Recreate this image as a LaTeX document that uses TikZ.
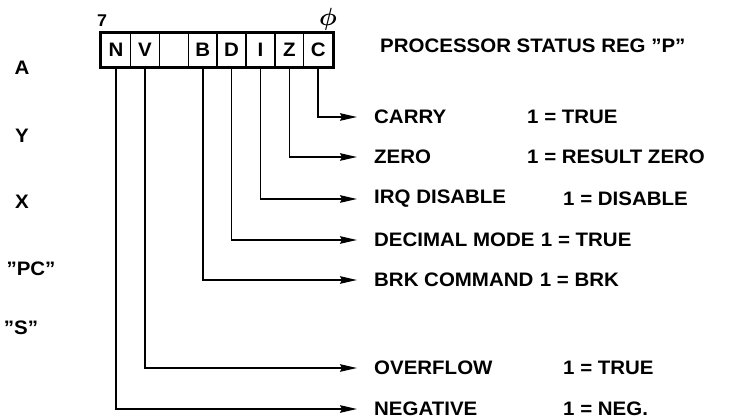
\documentclass[tikz,border=0pt]{standalone}
\usepackage{bm}
\usepackage{fontspec}
\setmainfont{Liberation Sans}[FakeStretch=1.05]
\usetikzlibrary{arrows.meta}

\begin{document}
\begin{tikzpicture}[
    x=1pt, y=-1pt,
    every node/.style={font=\fontsize{19.5}{22}\selectfont\bfseries},
    cell/.style={draw, line width=1.3pt, minimum width=28.9pt,
        minimum height=33pt, inner sep=0pt},
    flag/.style={line width=1.7pt,
        -{Stealth[length=17pt,width=7.5pt,inset=2pt]}, shorten >=17pt},
    lbl/.style={anchor=west, inner sep=0pt}]
    \useasboundingbox (0,0) rectangle (730,419);

    % Registros a la izquierda.
    \node (regA) at (22,68) {A};
    \node (regY) at (22,136) {Y};
    \node (regX) at (22,202) {X};
    \node (regPC) at (31,269) {''PC''};
    \node (regS) at (21,328) {''S''};

    % Registro de estado, bits 7 a 0.
    \node[cell] (bitN) at (115.95,50) {N};
    \node[cell] (bitV) at (144.85,50) {V};
    \node[cell] (bitU) at (173.75,50) {};
    \node[cell] (bitB) at (202.65,50) {B};
    \node[cell] (bitD) at (231.55,50) {D};
    \node[cell] (bitI) at (260.45,50) {I};
    \node[cell] (bitZ) at (289.35,50) {Z};
    \node[cell] (bitC) at (318.25,50) {C};
    \draw[line width=3.2pt] (bitN.north west) rectangle (bitC.south east);
    \node[font=\fontsize{17}{18}\selectfont\bfseries] (msb) at (102,21) {7};
    \node[font=\fontsize{24}{26}\selectfont] (lsb) at (328,19) {$\bm{\phi}$};
    \node[lbl] (title) at (380,46) {PROCESSOR STATUS REG ''P''};

    % Nombre de cada bandera y su valor.
    \node[lbl] (carry) at (374,117) {CARRY};
    \node[lbl] (carryv) at (527,117) {1 = TRUE};
    \node[lbl] (zero) at (374,157) {ZERO};
    \node[lbl] (zerov) at (527,157) {1 = RESULT ZERO};
    \node[lbl] (irq) at (374,199) {IRQ DISABLE};
    \node[lbl] (irqv) at (563,199) {1 = DISABLE};
    \node[lbl] (dec) at (374,240) {DECIMAL MODE};
    \node[lbl] (decv) at ([xshift=6pt]dec.east) {1 = TRUE};
    \node[lbl] (brk) at (374,280) {BRK COMMAND};
    \node[lbl] (brkv) at ([xshift=6pt]brk.east) {1 = BRK};
    \node[lbl] (ovf) at (374,368) {OVERFLOW};
    \node[lbl] (ovfv) at (563,368) {1 = TRUE};
    \node[lbl] (neg) at (374,409) {NEGATIVE};
    \node[lbl] (negv) at (563,409) {1 = NEG.};

    % Flechas desde cada bit.
    \draw[flag] (bitC.south) |- (carry.west);
    \draw[flag] (bitZ.south) |- (zero.west);
    \draw[flag] (bitI.south) |- (irq.west);
    \draw[flag] (bitD.south) |- (dec.west);
    \draw[flag] (bitB.south) |- (brk.west);
    \draw[flag] (bitV.south) |- (ovf.west);
    \draw[flag] (bitN.south) |- (neg.west);
\end{tikzpicture}
\end{document}
